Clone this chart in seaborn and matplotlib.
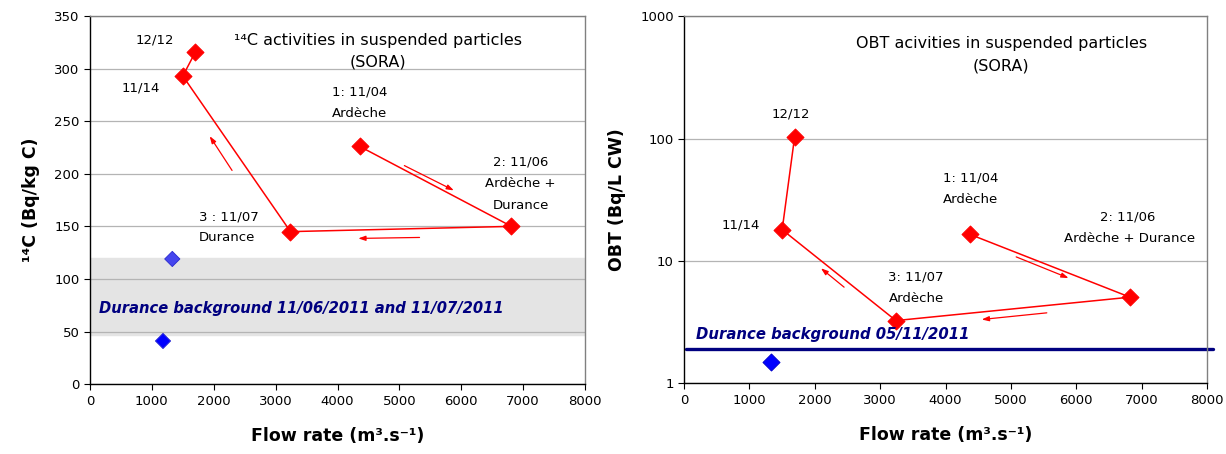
import numpy as np
import pandas as pd
import matplotlib
matplotlib.use("Agg")
import matplotlib.pyplot as plt
import seaborn as sns
from matplotlib.ticker import FixedLocator, FixedFormatter

# ---- data ----
# 14C in suspended particles (path order 11/04 -> 11/06 -> 11/07 -> 11/14 -> 12/12)
c14_flow = [4360, 6810, 3240, 1500, 1705]
c14_act = [226, 150, 145, 293, 316]
c14_bg_flow = [1330, 1180]
c14_bg_act = [119, 41]
c14_band = [47, 120]

# OBT in suspended particles
obt_flow = [4370, 6820, 3240, 1500, 1690]
obt_act = [16.5, 5.05, 3.25, 18.0, 103]
obt_bg_flow = [1330]
obt_bg_act = [1.48]
obt_bg_level = 1.9

# arrows (start x, start y, end x, end y)
c14_arrows = [(2320, 201, 1910, 238), (5040, 209, 5920, 183), (5370, 139.5, 4290, 138.5)]
obt_arrows = [(2480, 5.9, 2060, 9.0), (5040, 11.0, 5920, 7.1), (5590, 3.78, 4510, 3.3)]

RED = "#ff0000"
NAVY = "#000080"

sns.set_theme(style="white")
plt.rcParams["font.family"] = ["DejaVu Sans"]
plt.rcParams["text.color"] = "black"
plt.rcParams["axes.labelcolor"] = "black"
plt.rcParams["xtick.color"] = "black"
plt.rcParams["ytick.color"] = "black"

fig = plt.figure(figsize=(12.26, 4.54), dpi=100)
ax1 = fig.add_axes([0.0734, 0.154, 0.4038, 0.8106])
ax2 = fig.add_axes([0.558, 0.156, 0.4266, 0.808])


def style_axes(ax):
    for s in ["left", "bottom"]:
        ax.spines[s].set_color("black")
        ax.spines[s].set_linewidth(1.0)
    for s in ["top", "right"]:
        ax.spines[s].set_color("#808080")
        ax.spines[s].set_linewidth(1.0)
    ax.tick_params(axis="both", which="major", direction="out", length=4, width=0.8,
                   color="black", labelcolor="black", labelsize=9.5, left=True, bottom=True)
    ax.tick_params(axis="y", which="minor", left=False)
    ax.yaxis.grid(True, color="#b4b4b4", lw=0.9)
    ax.xaxis.grid(False)
    ax.set_xlim(0, 8000)
    ax.set_xticks(np.arange(0, 8001, 1000))
    ax.set_xlabel("Flow rate (m³.s⁻¹)", fontsize=12.5, fontweight="bold", labelpad=14)


def draw_arrows(ax, arrows):
    for x0, y0, x1, y1 in arrows:
        ax.annotate("", xy=(x1, y1), xytext=(x0, y0),
                    arrowprops=dict(arrowstyle="-|>,head_length=0.35,head_width=0.12",
                                    color=RED, lw=0.9))


# ---- left panel: 14C ----
ax = ax1
ax.axhspan(c14_band[0], c14_band[1], color="#e4e4e4", zorder=0.5)
sns.lineplot(x=c14_flow, y=c14_act, sort=False, estimator=None, color=RED, lw=1.1, ax=ax)
sns.scatterplot(x=c14_flow, y=c14_act, marker="D", s=75, color=RED, edgecolor=RED, ax=ax, zorder=3)
sns.scatterplot(x=c14_bg_flow, y=c14_bg_act, marker="D", s=60, hue=["a", "b"],
                palette=["#4646ee", "#0000ff"], edgecolor="#2a2ad0", legend=False, ax=ax, zorder=3)
style_axes(ax)
ax.set_ylim(0, 350)
ax.set_yticks(np.arange(0, 351, 50))
ax.set_ylabel("¹⁴C (Bq/kg C)", fontsize=12.5, fontweight="bold", labelpad=10)
draw_arrows(ax, c14_arrows)

lbl = dict(fontsize=9.5, color="black")
ax.text(4650, 327, "¹⁴C activities in suspended particles", ha="center", va="center", fontsize=11.5)
ax.text(4650, 306, "(SORA)", ha="center", va="center", fontsize=11.5)
ax.text(1040, 327, "12/12", ha="center", va="center", **lbl)
ax.text(820, 282, "11/14", ha="center", va="center", **lbl)
ax.text(4360, 278, "1: 11/04", ha="center", va="center", **lbl)
ax.text(4360, 257, "Ardèche", ha="center", va="center", **lbl)
ax.text(6960, 211, "2: 11/06", ha="center", va="center", **lbl)
ax.text(6960, 191, "Ardèche +", ha="center", va="center", **lbl)
ax.text(6960, 170, "Durance", ha="center", va="center", **lbl)
ax.text(1765, 159, "3 : 11/07", ha="left", va="center", **lbl)
ax.text(1765, 139, "Durance", ha="left", va="center", **lbl)
ax.text(150, 72, "Durance background 11/06/2011 and 11/07/2011", ha="left", va="center",
        fontsize=10.6, fontweight="bold", fontstyle="italic", color=NAVY)

# ---- right panel: OBT ----
ax = ax2
sns.lineplot(x=obt_flow, y=obt_act, sort=False, estimator=None, color=RED, lw=1.1, ax=ax)
sns.scatterplot(x=obt_flow, y=obt_act, marker="D", s=75, color=RED, edgecolor=RED, ax=ax, zorder=3)
sns.scatterplot(x=obt_bg_flow, y=obt_bg_act, marker="D", s=75, color="#0000ff",
                edgecolor="#0000cc", ax=ax, zorder=3)
ax.set_yscale("log")
style_axes(ax)
ax.set_ylim(1, 1000)
ax.yaxis.set_major_locator(FixedLocator([1, 10, 100, 1000]))
ax.yaxis.set_major_formatter(FixedFormatter(["1", "10", "100", "1000"]))
ax.yaxis.set_minor_locator(FixedLocator([]))
ax.set_ylabel("OBT (Bq/L CW)", fontsize=12.5, fontweight="bold", labelpad=10)
ax.plot([25, 8090], [obt_bg_level, obt_bg_level], color=NAVY, lw=2.4, clip_on=False, zorder=2)
draw_arrows(ax, obt_arrows)

ax.text(4850, 600, "OBT acivities in suspended particles", ha="center", va="center", fontsize=11.5)
ax.text(4850, 393, "(SORA)", ha="center", va="center", fontsize=11.5)
ax.text(1630, 160, "12/12", ha="center", va="center", **lbl)
ax.text(870, 19.6, "11/14", ha="center", va="center", **lbl)
ax.text(4380, 47.8, "1: 11/04", ha="center", va="center", **lbl)
ax.text(4380, 31.8, "Ardèche", ha="center", va="center", **lbl)
ax.text(6790, 23, "2: 11/06", ha="center", va="center", **lbl)
ax.text(6820, 15.3, "Ardèche + Durance", ha="center", va="center", **lbl)
ax.text(3550, 7.43, "3: 11/07", ha="center", va="center", **lbl)
ax.text(3550, 4.94, "Ardèche", ha="center", va="center", **lbl)
ax.text(175, 2.48, "Durance background 05/11/2011", ha="left", va="center",
        fontsize=10.7, fontweight="bold", fontstyle="italic", color=NAVY)

fig.savefig("out.png", dpi=100)
